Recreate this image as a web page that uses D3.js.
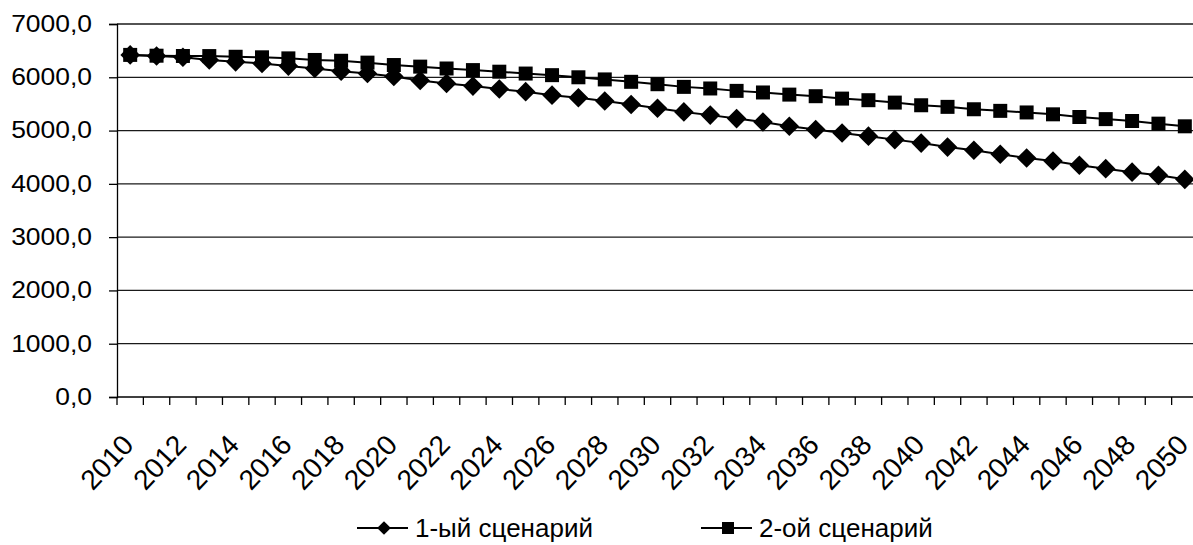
<!DOCTYPE html>
<html>
<head>
<meta charset="utf-8">
<script src="https://cdn.jsdelivr.net/npm/d3@7"></script>
<style>
  body { margin: 0; background: #fff; }
  svg { display: block; font-family: "Liberation Sans", Arial, sans-serif; }
</style>
</head>
<body>
<div id="content"></div>
<script>
// years on the category axis
const years = d3.range(2010, 2051);

// 1-ый сценарий (diamonds)
const scenario1 = [
  6420, 6400, 6375, 6325, 6290, 6260, 6210, 6165, 6115, 6070,
  6015, 5940, 5885, 5835, 5780, 5730, 5665, 5615, 5555, 5490,
  5420, 5350, 5290, 5225, 5160, 5080, 5020, 4955, 4895, 4830,
  4765, 4690, 4630, 4555, 4485, 4430, 4350, 4285, 4220, 4160, 4085
];

// 2-ой сценарий (squares)
const scenario2 = [
  6420, 6405, 6400, 6398, 6385, 6375, 6355, 6325, 6310, 6275,
  6230, 6200, 6165, 6135, 6105, 6070, 6040, 6000, 5960, 5915,
  5870, 5820, 5790, 5745, 5715, 5675, 5645, 5600, 5570, 5525,
  5475, 5445, 5400, 5370, 5340, 5305, 5255, 5215, 5180, 5130, 5080
];

const yTicks = [0, 1000, 2000, 3000, 4000, 5000, 6000, 7000];
const xLabelYears = years.filter(y => y % 2 == 0);
const seriesNames = ["1-ый сценарий", "2-ой сценарий"];

var width = 1193, height = 545;
var plot = { left: 117, right: 1198, top: 24, bottom: 397 };

var svg = d3.select("#content").append("svg")
    .attr("width", width)
    .attr("height", height);

var x = d3.scaleBand()
    .domain(years)
    .range([plot.left, plot.right])
    .padding(0);

var y = d3.scaleLinear()
    .domain([0, 7000])
    .range([plot.bottom, plot.top]);

var fmt = v => d3.format(".1f")(v).replace(".", ",");

// horizontal grid
svg.append("g")
    .selectAll("line")
    .data(yTicks.filter(t => t > 0))
    .enter()
    .append("line")
    .attr("x1", plot.left)
    .attr("x2", width)
    .attr("y1", d => y(d))
    .attr("y2", d => y(d))
    .attr("stroke", "#1a1a1a")
    .attr("stroke-width", 1.3);

// y axis
var yAxis = d3.axisLeft(y).tickValues(yTicks).tickSize(8).tickPadding(17).tickFormat(fmt);
var gy = svg.append("g")
    .attr("transform", "translate(" + plot.left + ",0)")
    .call(yAxis);
gy.select(".domain").attr("stroke", "#000").attr("stroke-width", 1.3);
gy.selectAll(".tick line").attr("stroke", "#000").attr("stroke-width", 1.3);
gy.selectAll(".tick text")
    .attr("font-size", 23)
    .attr("fill", "#000")
    .attr("font-family", "'Liberation Sans', Arial, sans-serif")
    // slight horizontal stretch like the original render
    .attr("transform", "translate(-25,0) scale(1.15,1) translate(25,0)");

// x axis: ticks at category boundaries
var boundaries = years.map(yr => x(yr)).concat([plot.right]);
var gx = svg.append("g");
gx.append("line")
    .attr("x1", plot.left).attr("x2", width)
    .attr("y1", plot.bottom).attr("y2", plot.bottom)
    .attr("stroke", "#000").attr("stroke-width", 1.3);
gx.selectAll(".xt")
    .data(boundaries)
    .enter()
    .append("line")
    .attr("class", "xt")
    .attr("x1", d => d).attr("x2", d => d)
    .attr("y1", plot.bottom).attr("y2", plot.bottom + 8)
    .attr("stroke", "#000").attr("stroke-width", 1.3);

gx.selectAll(".xl")
    .data(xLabelYears)
    .enter()
    .append("text")
    .attr("class", "xl")
    .attr("transform", d => "translate(" + (x(d) + x.bandwidth() / 2 + 5) + "," + 446 + ") rotate(-47)")
    .attr("text-anchor", "end")
    .attr("font-size", 28)
    .attr("fill", "#000")
    .text(d => d);

// series
var line = d3.line()
    .x((d, i) => x(years[i]) + x.bandwidth() / 2)
    .y(d => y(d));

function drawSeries(values, sym) {
    var g = svg.append("g");
    g.append("path")
        .datum(values)
        .attr("d", line)
        .attr("fill", "none")
        .attr("stroke", "#000")
        .attr("stroke-width", 2);
    g.selectAll("path.m")
        .data(values)
        .enter()
        .append("path")
        .attr("class", "m")
        .attr("d", sym())
        .attr("transform", (d, i) => "translate(" + (x(years[i]) + x.bandwidth() / 2) + "," + y(d) + ")")
        .attr("fill", "#000");
}

drawSeries(scenario2, d3.symbol().type(d3.symbolSquare).size(196));
drawSeries(scenario1, d3.symbol().type(d3.symbolDiamond2).size(245));

// legend
var legend = [
    { name: seriesNames[0], sym: d3.symbol().type(d3.symbolDiamond2).size(120), x0: 357 },
    { name: seriesNames[1], sym: d3.symbol().type(d3.symbolSquare).size(144), x0: 701 }
];
var lg = svg.append("g");
legend.forEach(function (l) {
    var ly = 528;
    lg.append("line")
        .attr("x1", l.x0).attr("x2", l.x0 + 51)
        .attr("y1", ly).attr("y2", ly)
        .attr("stroke", "#000").attr("stroke-width", 2);
    lg.append("path")
        .attr("d", l.sym())
        .attr("transform", "translate(" + (l.x0 + 27) + "," + ly + ")")
        .attr("fill", "#000");
    lg.append("text")
        .attr("x", l.x0 + 58)
        .attr("y", 537)
        .attr("font-size", 26)
        .attr("fill", "#000")
        .text(l.name);
});
</script>
</body>
</html>
